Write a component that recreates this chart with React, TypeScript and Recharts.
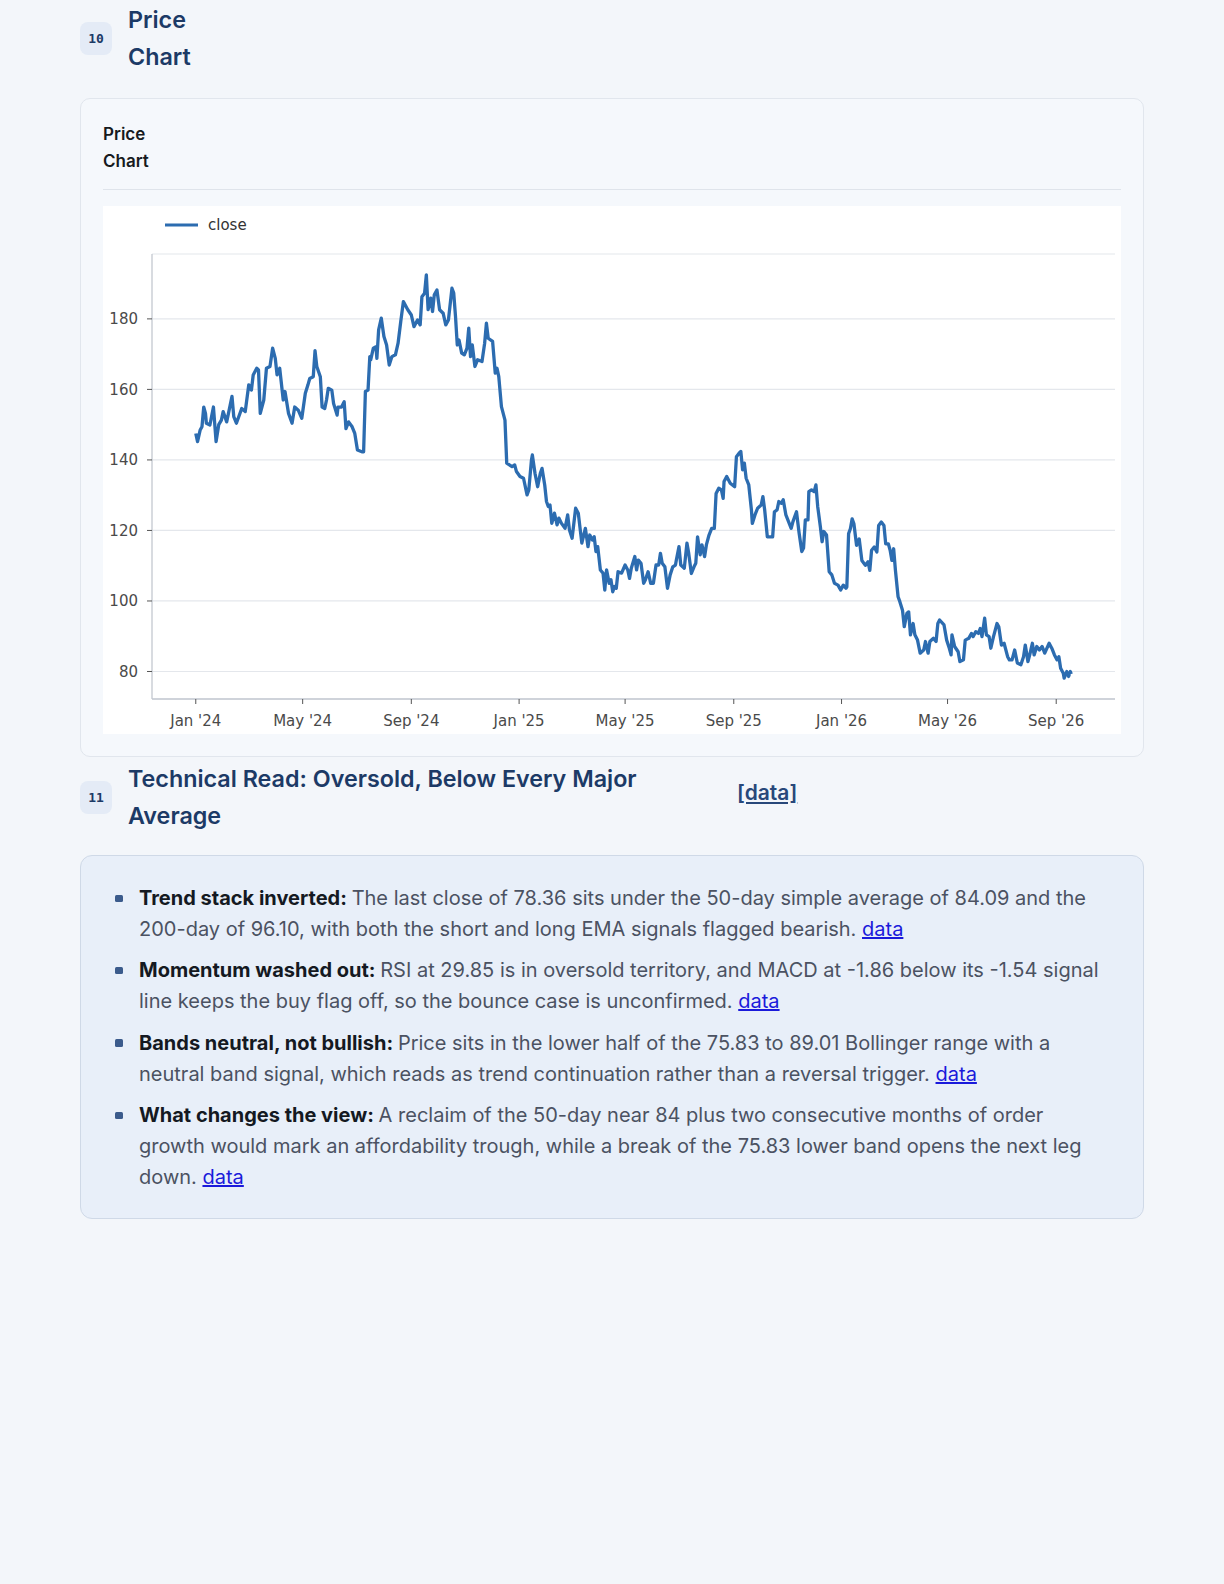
import React from 'react';
import { LineChart, Line, XAxis, YAxis, CartesianGrid, Legend } from 'recharts';

// ---- data ----
const dates: string[] = [
  '2024-01-01','2024-01-03','2024-01-06','2024-01-08','2024-01-10','2024-01-12','2024-01-13','2024-01-17','2024-01-21','2024-01-24','2024-01-27','2024-01-30',
  '2024-02-01','2024-02-05','2024-02-07','2024-02-11','2024-02-13','2024-02-16','2024-02-22','2024-02-26',
  '2024-03-01','2024-03-04','2024-03-06','2024-03-10','2024-03-12','2024-03-14','2024-03-18','2024-03-21','2024-03-25','2024-03-28','2024-03-31',
  '2024-04-02','2024-04-05','2024-04-09','2024-04-11','2024-04-15','2024-04-19','2024-04-22','2024-04-26','2024-04-30',
  '2024-05-04','2024-05-07','2024-05-09','2024-05-13','2024-05-15','2024-05-17','2024-05-21','2024-05-23','2024-05-26','2024-05-28','2024-05-30',
  '2024-06-03','2024-06-05','2024-06-09','2024-06-10','2024-06-14','2024-06-17','2024-06-19','2024-06-22','2024-06-26','2024-06-29',
  '2024-07-02','2024-07-07','2024-07-09','2024-07-11','2024-07-14','2024-07-16','2024-07-17','2024-07-20','2024-07-23','2024-07-24','2024-07-26','2024-07-29',
  '2024-08-01','2024-08-04','2024-08-07','2024-08-10','2024-08-14','2024-08-17','2024-08-20','2024-08-23','2024-08-28',
  '2024-09-01','2024-09-04','2024-09-08','2024-09-11','2024-09-13','2024-09-16','2024-09-18','2024-09-20','2024-09-23','2024-09-25','2024-09-27','2024-09-30',
  '2024-10-03','2024-10-07','2024-10-10','2024-10-13','2024-10-17','2024-10-19','2024-10-21','2024-10-23','2024-10-25','2024-10-28','2024-10-31',
  '2024-11-03','2024-11-05','2024-11-07','2024-11-09','2024-11-12','2024-11-15','2024-11-20','2024-11-23','2024-11-25','2024-11-27',
  '2024-12-02','2024-12-05','2024-12-07','2024-12-09','2024-12-12','2024-12-16','2024-12-18','2024-12-24','2024-12-27','2024-12-29',
  '2025-01-02','2025-01-06','2025-01-10','2025-01-12','2025-01-15','2025-01-16','2025-01-19','2025-01-22','2025-01-25','2025-01-27','2025-01-30',
  '2025-02-01','2025-02-03','2025-02-05','2025-02-07','2025-02-10','2025-02-13','2025-02-15','2025-02-18','2025-02-22','2025-02-25','2025-02-27',
  '2025-03-02','2025-03-06','2025-03-09','2025-03-13','2025-03-17','2025-03-20','2025-03-22','2025-03-25','2025-03-27','2025-03-29','2025-03-31',
  '2025-04-03','2025-04-06','2025-04-08','2025-04-10','2025-04-13','2025-04-15','2025-04-17','2025-04-19','2025-04-21','2025-04-23','2025-04-27',
  '2025-05-01','2025-05-04','2025-05-06','2025-05-08','2025-05-12','2025-05-14','2025-05-16','2025-05-19','2025-05-22','2025-05-24','2025-05-27','2025-05-30',
  '2025-06-02','2025-06-05','2025-06-08','2025-06-10','2025-06-12','2025-06-15','2025-06-18','2025-06-21','2025-06-24','2025-06-27','2025-06-28',
  '2025-07-01','2025-07-03','2025-07-07','2025-07-10','2025-07-12','2025-07-15','2025-07-18','2025-07-20','2025-07-22','2025-07-25','2025-07-27','2025-07-30',
  '2025-08-01','2025-08-04','2025-08-07','2025-08-10','2025-08-12','2025-08-15','2025-08-18','2025-08-20','2025-08-21','2025-08-24','2025-08-28',
  '2025-09-02','2025-09-04','2025-09-07','2025-09-09','2025-09-11','2025-09-13','2025-09-15','2025-09-18','2025-09-21','2025-09-22','2025-09-25','2025-09-28',
  '2025-10-02','2025-10-04','2025-10-06','2025-10-09','2025-10-12','2025-10-15','2025-10-17','2025-10-20','2025-10-22','2025-10-25','2025-10-27','2025-10-30',
  '2025-11-02','2025-11-05','2025-11-07','2025-11-11','2025-11-14','2025-11-17','2025-11-19','2025-11-21','2025-11-24','2025-11-25','2025-11-28',
  '2025-12-01','2025-12-03','2025-12-05','2025-12-08','2025-12-10','2025-12-12','2025-12-15','2025-12-18','2025-12-21','2025-12-24','2025-12-28','2025-12-31',
  '2026-01-03','2026-01-06','2026-01-07','2026-01-09','2026-01-11','2026-01-13','2026-01-15','2026-01-18','2026-01-21','2026-01-24','2026-01-28','2026-01-31',
  '2026-02-02','2026-02-04','2026-02-07','2026-02-10','2026-02-12','2026-02-15','2026-02-18','2026-02-20','2026-02-23','2026-02-25','2026-02-27',
  '2026-03-01','2026-03-03','2026-03-06','2026-03-08','2026-03-11','2026-03-13','2026-03-16','2026-03-18','2026-03-20','2026-03-23','2026-03-25','2026-03-28','2026-03-31',
  '2026-04-04','2026-04-06','2026-04-09','2026-04-11','2026-04-15','2026-04-18','2026-04-20','2026-04-22','2026-04-27','2026-04-30',
  '2026-05-03','2026-05-05','2026-05-06','2026-05-09','2026-05-13','2026-05-15','2026-05-19','2026-05-21','2026-05-25','2026-05-28','2026-05-30',
  '2026-06-02','2026-06-05','2026-06-07','2026-06-09','2026-06-12','2026-06-14','2026-06-17','2026-06-19','2026-06-22','2026-06-26','2026-06-28',
  '2026-07-01','2026-07-04','2026-07-08','2026-07-10','2026-07-13','2026-07-16','2026-07-19','2026-07-23','2026-07-26','2026-07-28','2026-07-31',
  '2026-08-02','2026-08-05','2026-08-07','2026-08-10','2026-08-13','2026-08-16','2026-08-19','2026-08-24','2026-08-27','2026-08-30',
  '2026-09-02','2026-09-04','2026-09-06','2026-09-09','2026-09-10','2026-09-13','2026-09-15','2026-09-17','2026-09-18',
];

const closes: number[] = [
  147.5,145.2,148.5,149.4,155.0,153.2,150.4,149.9,155.0,145.2,150.0,151.3,
  153.7,150.8,153.2,158.0,152.3,150.4,154.6,153.7,
  161.3,159.8,164.1,166.0,165.5,153.2,157.0,166.0,166.5,171.7,168.8,
  164.1,166.0,157.0,159.4,153.2,150.4,155.0,154.1,151.8,
  158.9,161.3,163.1,163.6,171.0,166.5,163.6,155.0,154.6,157.0,160.3,
  159.8,156.0,152.7,155.0,155.0,156.5,148.9,150.8,149.4,147.5,
  142.8,142.3,142.3,159.4,159.8,169.3,168.4,171.7,172.1,168.8,176.9,180.2,
  175.0,172.6,166.9,169.3,169.8,173.1,179.2,184.9,182.6,
  181.1,177.8,179.7,178.3,186.3,187.3,192.5,182.6,185.9,182.1,186.8,188.2,
  182.6,181.6,178.3,179.7,188.7,187.3,180.7,172.6,174.0,170.3,169.8,
  171.7,177.4,169.3,172.6,166.5,168.4,167.9,173.1,178.8,174.5,
  173.6,164.6,166.0,163.6,155.1,151.3,139.1,138.1,138.6,136.7,
  135.3,134.8,130.1,131.5,140.0,141.4,136.2,132.4,136.2,137.6,132.9,
  128.2,126.8,127.2,122.0,124.9,121.6,123.5,122.0,120.6,124.4,120.1,
  117.8,126.3,124.9,116.4,120.6,115.4,118.7,117.3,118.2,114.0,115.4,
  108.8,107.9,103.1,108.8,105.0,106.0,102.6,104.1,103.6,108.3,107.9,
  110.2,108.8,106.4,109.3,112.6,108.8,111.6,110.7,105.0,106.0,108.3,105.0,
  105.0,110.2,110.2,113.5,110.7,109.7,103.6,107.4,109.7,110.2,111.6,
  115.4,110.2,109.3,116.4,113.5,107.8,109.7,110.7,118.2,113.1,115.9,112.6,
  115.9,118.7,120.6,120.6,130.5,132.0,131.5,129.1,133.9,135.3,133.4,
  132.4,140.9,141.9,142.4,137.2,139.1,134.8,132.9,125.8,122.0,124.4,126.3,
  127.2,129.6,125.8,118.2,118.2,118.2,125.3,125.8,128.2,127.7,128.7,124.4,
  122.5,120.6,122.5,125.3,119.2,114.0,115.0,123.0,123.0,131.0,131.5,
  131.0,132.9,126.8,121.1,116.8,119.7,118.7,108.3,107.4,105.0,104.5,103.1,
  104.5,103.6,104.0,119.1,120.5,123.3,121.9,115.8,117.6,111.5,110.1,111.1,
  108.7,114.4,115.3,113.9,121.4,122.4,121.4,116.2,116.2,114.4,111.5,
  114.8,108.7,101.2,99.8,97.4,92.7,96.5,96.9,90.4,93.6,90.4,88.9,85.2,
  86.1,88.5,85.2,88.5,89.4,88.5,93.6,94.6,93.2,88.9,
  86.6,84.7,90.4,87.1,85.6,82.8,83.3,88.9,89.4,90.8,89.9,
  91.3,90.8,92.2,89.9,95.1,90.4,89.9,86.6,89.9,93.6,92.7,
  87.5,88.0,84.2,83.3,83.3,86.1,82.4,81.9,84.2,87.5,82.8,
  84.7,88.0,84.7,87.1,86.1,87.1,85.2,88.0,86.6,84.7,
  83.3,84.2,80.9,79.5,78.1,80.0,78.6,80.0,79.3,
];

const xTickDates: string[] = [
  '2024-01-01','2024-05-01','2024-09-01','2025-01-01','2025-05-01','2025-09-01','2026-01-01','2026-05-01','2026-09-01',
];
const yTicks: number[] = [80, 100, 120, 140, 160, 180];
const yDomain: [number, number] = [72.2, 198.4];
const seriesName = 'close';
const MONTHS = ['Jan','Feb','Mar','Apr','May','Jun','Jul','Aug','Sep','Oct','Nov','Dec'];

const bullets = [
  {
    label: 'Trend stack inverted:',
    lines: [
      'The last close of 78.36 sits under the 50-day simple average of 84.09 and the',
      '200-day of 96.10, with both the short and long EMA signals flagged bearish.',
    ],
  },
  {
    label: 'Momentum washed out:',
    lines: [
      'RSI at 29.85 is in oversold territory, and MACD at -1.86 below its -1.54 signal',
      'line keeps the buy flag off, so the bounce case is unconfirmed.',
    ],
  },
  {
    label: 'Bands neutral, not bullish:',
    lines: [
      'Price sits in the lower half of the 75.83 to 89.01 Bollinger range with a',
      'neutral band signal, which reads as trend continuation rather than a reversal trigger.',
    ],
  },
  {
    label: 'What changes the view:',
    lines: [
      'A reclaim of the 50-day near 84 plus two consecutive months of order',
      'growth would mark an affordability trough, while a break of the 75.83 lower band opens the next leg',
      'down.',
    ],
  },
];

// ---- helpers ----
const toDay = (s: string) => {
  const [y, m, d] = s.split('-').map(Number);
  return Date.UTC(y, m - 1, d) / 86400000;
};
const fmtTick = (v: number) => {
  const dt = new Date(Math.round(v) * 86400000);
  return `${MONTHS[dt.getUTCMonth()]} '${String(dt.getUTCFullYear()).slice(2)}`;
};

const data = dates.map((d, i) => ({ t: toDay(d), close: closes[i] }));
const xTicks = xTickDates.map(toDay);
const tFirst = data[0].t;
const tLast = data[data.length - 1].t;
const xPad = (tLast - tFirst) * 0.05;

const LINE = '#2c6cb0';
const NAVY = '#1c3a66';
const INTER = 'Inter, "Noto Sans", sans-serif';
const MPL = '"DejaVu Sans", sans-serif';

const LegendContent = () => (
  <div style={{ display: 'flex', alignItems: 'center', fontFamily: MPL, fontSize: 15, color: '#333', lineHeight: '18px' }}>
    <svg width={33} height={4} style={{ display: 'block' }}>
      <line x1={0} y1={2} x2={33} y2={2} stroke={LINE} strokeWidth={3.2} />
    </svg>
    <span style={{ marginLeft: 10 }}>{seriesName}</span>
  </div>
);

const Badge = ({ n, top }: { n: string; top: number }) => (
  <div
    style={{
      position: 'absolute', left: 80, top, width: 32, height: 33, borderRadius: 8,
      background: '#e4ebf6', color: NAVY, fontFamily: '"DejaVu Sans Mono", monospace',
      fontWeight: 700, fontSize: 13, display: 'flex', alignItems: 'center', justifyContent: 'center',
    }}
  >
    {n}
  </div>
);

export default function App() {
  return (
    <div style={{ position: 'absolute', left: 0, top: 0, width: 1224, height: 1584, background: '#f3f6fa', fontFamily: INTER, overflow: 'hidden' }}>
      {/* Section 10 header */}
      <Badge n="10" top={22} />
      <div style={{ position: 'absolute', left: 128, top: 1, fontSize: 23.3, lineHeight: '37px', fontWeight: 600, color: NAVY }}>
        <div>Price</div>
        <div>Chart</div>
      </div>

      {/* Card */}
      <div
        style={{
          position: 'absolute', left: 80, top: 98, width: 1064, height: 659, boxSizing: 'border-box',
          border: '1px solid #e1e6ed', borderRadius: 10, background: '#f5f8fc',
        }}
      >
        <div style={{ position: 'absolute', left: 22, top: 22, fontSize: 17, lineHeight: '26.7px', fontWeight: 600, color: '#161a20' }}>
          <div>Price</div>
          <div>Chart</div>
        </div>
        <div style={{ position: 'absolute', left: 22, top: 90, width: 1018, height: 1, background: '#dfe4eb' }} />
        <div style={{ position: 'absolute', left: 22, top: 107, width: 1018, height: 528, background: '#ffffff' }}>
          <LineChart width={1018} height={528} data={data} margin={{ top: 48, right: 6, bottom: 0, left: 0 }}>
            <CartesianGrid horizontal vertical={false} stroke="#e4e7ec" strokeWidth={1.2} />
            <XAxis
              dataKey="t"
              type="number"
              domain={[tFirst - xPad, tLast + xPad]}
              ticks={xTicks}
              tickFormatter={fmtTick}
              height={35}
              tickSize={5}
              tickMargin={11}
              axisLine={{ stroke: '#c3c8d0', strokeWidth: 1.3 }}
              tickLine={{ stroke: '#555', strokeWidth: 1 }}
              tick={{ fill: '#4a4a4a', fontSize: 15, fontFamily: MPL }}
              interval={0}
            />
            <YAxis
              type="number"
              domain={yDomain}
              ticks={yTicks}
              width={49}
              tickSize={5}
              tickMargin={9}
              axisLine={{ stroke: '#c3c8d0', strokeWidth: 1.3 }}
              tickLine={{ stroke: '#555', strokeWidth: 1 }}
              tick={{ fill: '#4a4a4a', fontSize: 15, fontFamily: MPL }}
              allowDataOverflow
              interval={0}
            />
            <Legend
              layout="vertical"
              align="center"
              verticalAlign="middle"
              content={<LegendContent />}
              wrapperStyle={{ left: 62, top: 10, width: 'auto' }}
            />
            <Line
              type="linear"
              dataKey="close"
              name={seriesName}
              stroke={LINE}
              strokeWidth={3.3}
              dot={false}
              activeDot={false}
              isAnimationActive={false}
              strokeLinejoin="round"
            />
          </LineChart>
        </div>
      </div>

      {/* Section 11 header */}
      <Badge n="11" top={781} />
      <div style={{ position: 'absolute', left: 128, top: 760, fontSize: 23.3, lineHeight: '37px', fontWeight: 600, color: NAVY }}>
        <div>Technical Read: Oversold, Below Every Major</div>
        <div>Average</div>
      </div>
      <a
        href="#"
        style={{ position: 'absolute', left: 737, top: 778, fontSize: 21, lineHeight: '30px', fontWeight: 600, color: '#28487a', textDecoration: 'underline' }}
      >
        [data]
      </a>

      {/* Callout */}
      <div
        style={{
          position: 'absolute', left: 80, top: 855, width: 1064, height: 364, boxSizing: 'border-box',
          border: '1px solid #cfd9e7', borderRadius: 12, background: '#e8eff9', padding: '27px 0 0 0',
        }}
      >
        {bullets.map((b, i) => (
          <div key={i} style={{ position: 'relative', paddingLeft: 58, marginBottom: 11, fontSize: 20, lineHeight: '30.7px', color: '#4b5262', whiteSpace: 'nowrap' }}>
            <span style={{ position: 'absolute', left: 34, top: 11.5, width: 7.5, height: 7.5, borderRadius: 1.5, background: '#3b5b8c' }} />
            {b.lines.map((ln, j) => (
              <div key={j}>
                {j === 0 && <strong style={{ color: '#141922', fontWeight: 700 }}>{b.label} </strong>}
                {ln}
                {j === b.lines.length - 1 && (
                  <>
                    {' '}
                    <a href="#" style={{ color: '#1a1adb', textDecoration: 'underline' }}>data</a>
                  </>
                )}
              </div>
            ))}
          </div>
        ))}
      </div>
    </div>
  );
}
